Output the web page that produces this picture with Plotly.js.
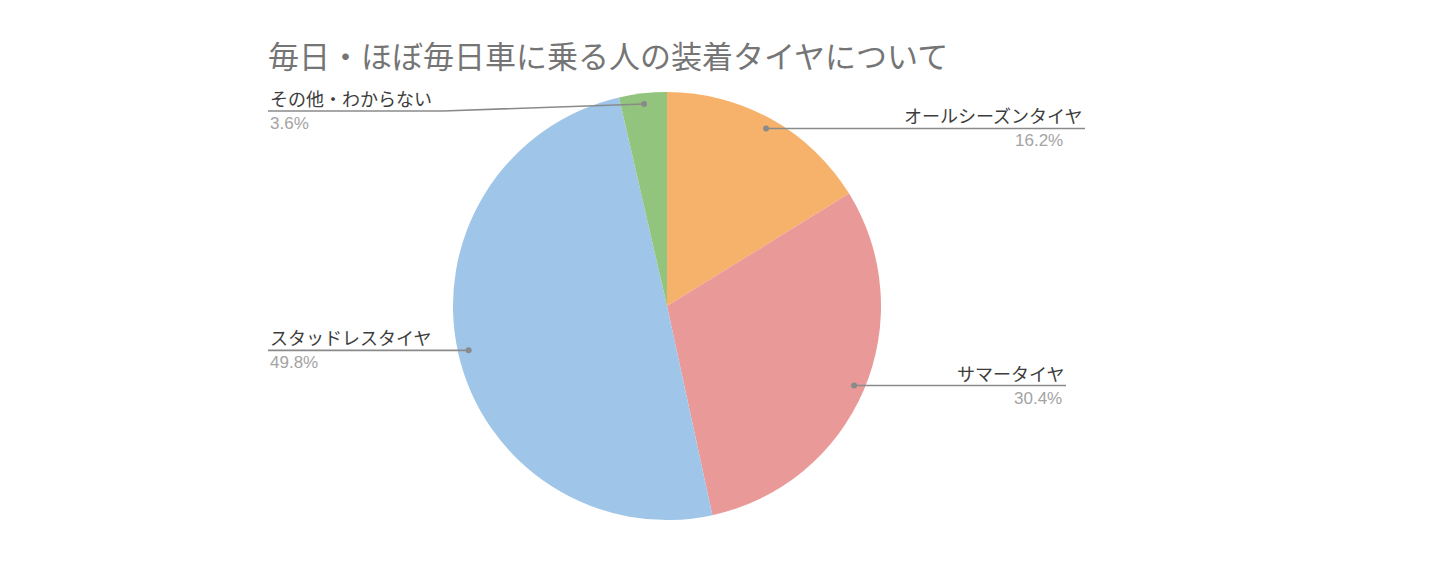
<!DOCTYPE html>
<html>
<head>
<meta charset="utf-8">
<script src="https://cdn.plot.ly/plotly-3.0.1.min.js"></script>
<style>
  html, body { margin: 0; padding: 0; background: #fff; }
  #chart { width: 1452px; height: 563px; }
</style>
</head>
<body>
<div id="chart"></div>
<script>
const chartTitle = '毎日・ほぼ毎日車に乗る人の装着タイヤについて';
const categories = ['オールシーズンタイヤ', 'サマータイヤ', 'スタッドレスタイヤ', 'その他・わからない'];
const shares = [16.2, 30.4, 49.8, 3.6];
const percentLabels = ['16.2%', '30.4%', '49.8%', '3.6%'];
const colors = ['#F6B26B', '#EA9999', '#9FC5E8', '#93C47D'];

// page geometry (pixels)
const W = 1452, H = 563;
const cx = 667, cy = 306, R = 214;
const labelEndX = [1085, 1066, 268, 268];
const percentX = [1065, 1064, 268, 268];
const lineYOverride = [null, null, null, 111];
const elbowXOverride = [null, null, null, 443];

const px = x => x / W;
const py = y => 1 - y / H;
const font = '"Noto Sans CJK JP", "Noto Sans", sans-serif';

const total = shares.reduce((a, b) => a + b, 0);
const shapes = [];
const annotations = [];
let cum = 0;
shares.forEach((v, i) => {
  const mid = (cum + v / 2) / total;
  cum += v;
  const th = mid * 2 * Math.PI;
  const dx = cx + 0.95 * R * Math.sin(th);
  const dy = cy - 0.95 * R * Math.cos(th);
  const right = Math.sin(th) > 0;
  const ly = lineYOverride[i] != null ? lineYOverride[i] : dy;
  const ex = elbowXOverride[i] != null ? elbowXOverride[i] : dx;
  const endX = labelEndX[i];

  shapes.push({
    type: 'path', xref: 'paper', yref: 'paper',
    path: `M ${px(dx)} ${py(dy)} L ${px(ex)} ${py(ly)} L ${px(endX)} ${py(ly)}`,
    line: { color: '#8a8a8a', width: 1.6 }
  });
  shapes.push({
    type: 'circle', xref: 'paper', yref: 'paper',
    x0: px(dx - 3), x1: px(dx + 3), y0: py(dy + 3), y1: py(dy - 3),
    fillcolor: '#8a8a8a', line: { width: 0 }
  });
  annotations.push({
    xref: 'paper', yref: 'paper', showarrow: false,
    x: px(endX), y: py(ly + 2),
    xanchor: right ? 'right' : 'left', yanchor: 'bottom',
    text: categories[i],
    font: { family: font, size: 18, color: '#3c3c3c' }
  });
  annotations.push({
    xref: 'paper', yref: 'paper', showarrow: false,
    x: px(percentX[i]), y: py(ly + 1),
    xanchor: right ? 'right' : 'left', yanchor: 'top',
    text: percentLabels[i],
    font: { family: '"Liberation Sans", Arial, sans-serif', size: 17, color: '#a3a3a3' }
  });
});

const data = [{
  type: 'pie',
  labels: categories,
  values: shares,
  sort: false,
  direction: 'clockwise',
  rotation: 0,
  textinfo: 'none',
  hoverinfo: 'label+percent',
  marker: { colors: colors, line: { width: 0 } },
  domain: { x: [px(cx - R), px(cx + R)], y: [py(cy + R), py(cy - R)] },
  showlegend: false
}];

const layout = {
  width: W, height: H,
  margin: { l: 0, r: 0, t: 0, b: 0 },
  paper_bgcolor: '#ffffff',
  title: {
    text: chartTitle,
    x: px(268), xanchor: 'left', xref: 'paper',
    y: py(57), yanchor: 'middle', yref: 'paper',
    font: { family: font, size: 31, color: '#757575' }
  },
  shapes: shapes,
  annotations: annotations
};

Plotly.newPlot('chart', data, layout, { displayModeBar: false, staticPlot: true });
</script>
</body>
</html>
